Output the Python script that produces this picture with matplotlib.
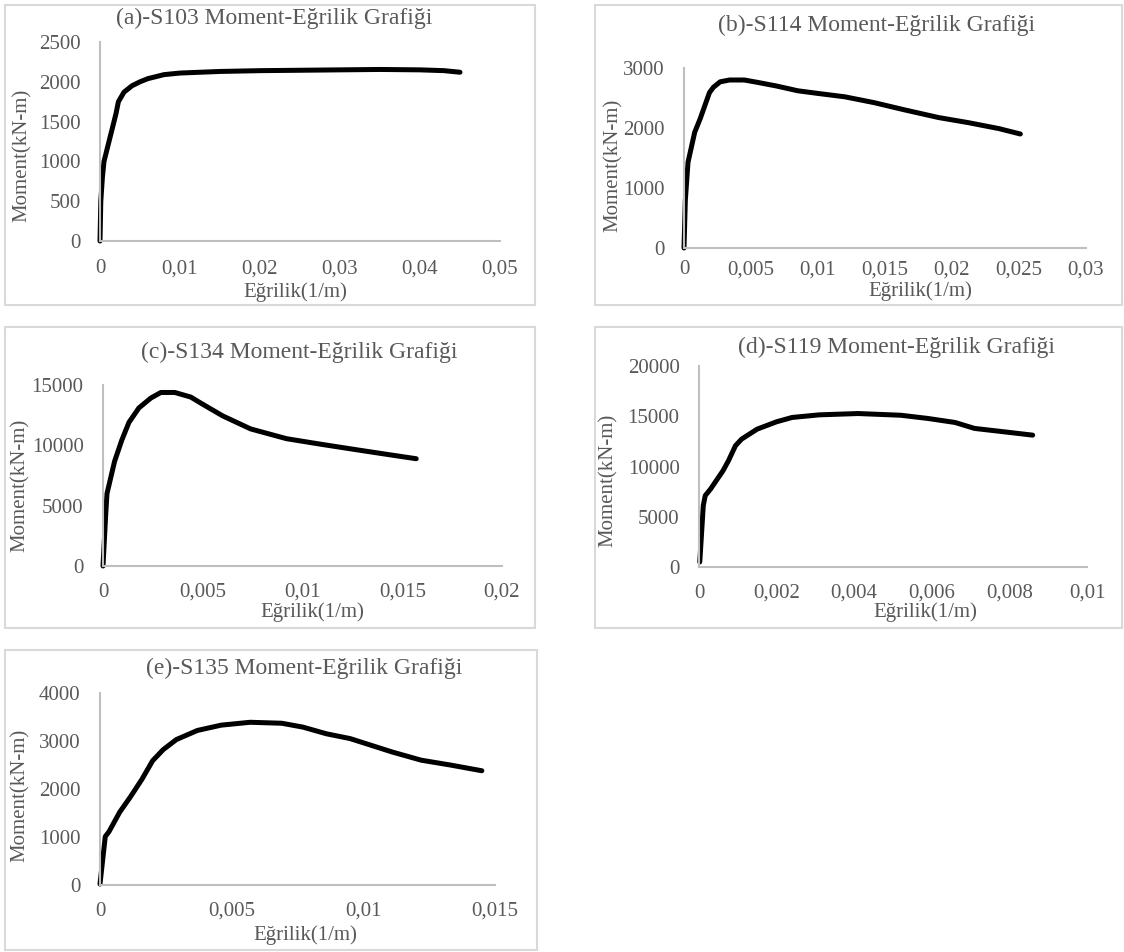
"""
Moment-Egrilik grafikleri (S103, S114, S134, S119, S135), 5 pannelli.
"""

import matplotlib
matplotlib.use("Agg")
import matplotlib.pyplot as plt
from matplotlib.patches import Rectangle
from matplotlib.ticker import FuncFormatter

W, H = 1124, 952

# ---- dati ----
titles = ["(a)-S103 Moment-Eğrilik Grafiği", "(b)-S114 Moment-Eğrilik Grafiği",
          "(c)-S134 Moment-Eğrilik Grafiği", "(d)-S119 Moment-Eğrilik Grafiği",
          "(e)-S135 Moment-Eğrilik Grafiği"]
xlabel = "Eğrilik(1/m)"
ylabel = "Moment(kN-m)"

s103_k = [0, 0.0001, 0.0003, 0.0005, 0.001, 0.0015, 0.002, 0.0023, 0.003, 0.004,
          0.005, 0.006, 0.008, 0.01, 0.015, 0.02, 0.025, 0.03, 0.035, 0.04, 0.043, 0.045]
s103_m = [0, 500, 800, 1000, 1200, 1400, 1600, 1750, 1870, 1950,
          2000, 2040, 2090, 2110, 2130, 2140, 2145, 2150, 2155, 2150, 2140, 2120]

s114_k = [0, 0.0001, 0.0003, 0.0008, 0.0012, 0.0019, 0.0022, 0.0027, 0.0034, 0.0045,
          0.0055, 0.0069, 0.0085, 0.01, 0.012, 0.0142, 0.0165, 0.019, 0.0212, 0.0235, 0.0251]
s114_m = [0, 800, 1430, 1930, 2150, 2590, 2680, 2770, 2800, 2800,
          2760, 2700, 2620, 2576, 2520, 2422, 2300, 2174, 2090, 1990, 1900]

s134_k = [0, 0.00013, 0.0002, 0.00058, 0.00094, 0.0013, 0.0018, 0.0024, 0.0029, 0.0036,
          0.0044, 0.0049, 0.006, 0.0074, 0.0092, 0.011, 0.0128, 0.0146, 0.0157]
s134_m = [0, 4100, 6000, 8670, 10420, 11900, 13100, 13920, 14380, 14380,
          14000, 13500, 12440, 11360, 10550, 10070, 9610, 9160, 8890]

s119_k = [0.00002, 0.00011, 0.00016, 0.0003, 0.00062, 0.00076, 0.00094, 0.0011, 0.0015,
          0.002, 0.0024, 0.0031, 0.0041, 0.0052, 0.0059, 0.0066, 0.0071, 0.008, 0.0086]
s119_m = [500, 6100, 7100, 7770, 9590, 10580, 12070, 12730, 13720,
          14450, 14880, 15140, 15270, 15100, 14780, 14380, 13790, 13390, 13120]

s135_k = [0, 0.0002, 0.00034, 0.00075, 0.00116, 0.0016, 0.002, 0.0024, 0.0029, 0.0037,
          0.0046, 0.0057, 0.0069, 0.0077, 0.0086, 0.0095, 0.0103, 0.0111, 0.0122, 0.0133, 0.0145]
s135_m = [20, 1010, 1110, 1520, 1840, 2210, 2590, 2820, 3030, 3220,
          3330, 3390, 3370, 3290, 3150, 3050, 2910, 2770, 2600, 2500, 2380]

# limiti e passi degli assi
xlims = [(0, 0.05), (0, 0.03), (0, 0.02), (0, 0.01), (0, 0.015)]
xsteps = [0.01, 0.005, 0.005, 0.002, 0.005]
ylims = [(0, 2500), (0, 3000), (0, 15000), (0, 20000), (0, 4000)]
ysteps = [500, 1000, 5000, 5000, 1000]

# ---- layout in pixel ----
# box del pannello, area assi (left, top, right, bottom)
boxes = [(5, 5, 535, 305), (595, 5, 1122, 305), (5, 327, 535, 628),
         (595, 327, 1122, 628), (5, 650, 537, 950)]
axareas = [(100, 42, 500, 241), (684, 68, 1086, 248), (103, 385, 502, 566),
           (699, 366, 1087, 567), (100, 693, 495, 885)]
xpads = [13, 9, 12, 12, 12]
title_pos = [(274, 18), (877, 25), (299, 352), (896, 347), (304, 668)]
xlab_pos = [(295, 292), (920, 291), (312, 612), (925, 612), (305, 935)]
ylab_pos = [(22, 155), (613, 165), (20, 485), (608, 480), (20, 795)]

GRAY_TXT = "#595959"
plt.rcParams["font.family"] = ["Liberation Serif", "DejaVu Serif"]


def fx(x):
    return x / W


def fy(y):
    return 1 - y / H


def comma_fmt(v, pos):
    s = "%g" % round(v, 6)
    return s.replace(".", ",")


fig = plt.figure(figsize=(W / 100, H / 100), dpi=100)
fig.patch.set_facecolor("white")

data = [(s103_k, s103_m), (s114_k, s114_m), (s134_k, s134_m),
        (s119_k, s119_m), (s135_k, s135_m)]

for i in range(5):
    l, t, r, b = boxes[i]
    fig.patches.append(Rectangle((fx(l), fy(b)), fx(r - l), (b - t) / H,
                                 transform=fig.transFigure, fill=False,
                                 edgecolor="#D9D9D9", linewidth=1.5))
    l, t, r, b = axareas[i]
    ax = fig.add_axes([fx(l), fy(b), fx(r - l), (b - t) / H])
    ax.set_facecolor("none")
    k, m = data[i]
    ax.plot(k, m, color="black", linewidth=3.6, solid_capstyle="round",
            solid_joinstyle="round", clip_on=False)
    ax.set_xlim(*xlims[i])
    ax.set_ylim(*ylims[i])
    n = int(round(xlims[i][1] / xsteps[i]))
    ax.set_xticks([j * xsteps[i] for j in range(n + 1)])
    n = int(round(ylims[i][1] / ysteps[i]))
    ax.set_yticks([j * ysteps[i] for j in range(n + 1)])
    ax.xaxis.set_major_formatter(FuncFormatter(comma_fmt))
    for s in ["top", "right"]:
        ax.spines[s].set_visible(False)
    for s in ["left", "bottom"]:
        ax.spines[s].set_color("#BFBFBF")
        ax.spines[s].set_linewidth(1.5)
    ax.tick_params(length=0, labelsize=15, labelcolor=GRAY_TXT)
    ax.tick_params(axis="y", pad=14)
    ax.tick_params(axis="x", pad=xpads[i])

    tx, ty = title_pos[i]
    fig.text(fx(tx), fy(ty), titles[i], ha="center", va="center",
             fontsize=17, color=GRAY_TXT)
    tx, ty = xlab_pos[i]
    fig.text(fx(tx), fy(ty), xlabel, ha="center", va="center",
             fontsize=15, color=GRAY_TXT)
    tx, ty = ylab_pos[i]
    fig.text(fx(tx), fy(ty), ylabel, ha="center", va="center",
             fontsize=15, color=GRAY_TXT, rotation=90)

fig.savefig("out.png", dpi=100, facecolor="white")
